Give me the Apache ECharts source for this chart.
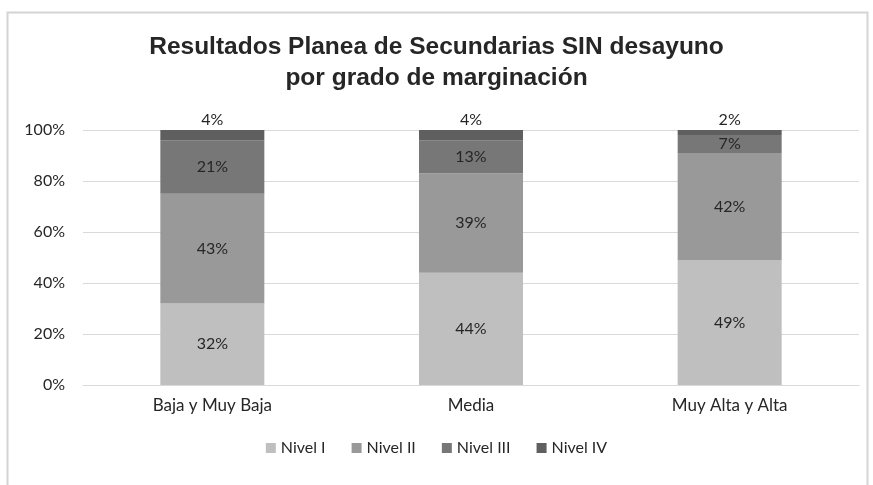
<!DOCTYPE html>
<html>
<head>
<meta charset="utf-8">
<script src="https://cdn.jsdelivr.net/npm/echarts@6/dist/echarts.min.js"></script>
<style>
  html, body { margin: 0; padding: 0; background: #fff; }
  #chart { width: 873px; height: 485px; }
</style>
</head>
<body>
<div id="chart"></div>
<script>
const categories = ['Baja y Muy Baja', 'Media', 'Muy Alta y Alta'];
const nivelI = [32, 44, 49];
const nivelII = [43, 39, 42];
const nivelIII = [21, 13, 7];
const nivelIV = [4, 4, 2];
const yTicks = [0, 20, 40, 60, 80, 100];

const textFont = 'Lato';

function seriesOf(name, data, color, pos) {
  return {
    name: name,
    type: 'bar',
    stack: 'total',
    data: data,
    barWidth: 104,
    itemStyle: { color: color },
    label: {
      show: true,
      position: pos,
      formatter: '{c}%',
      color: '#262626',
      fontFamily: textFont,
      fontSize: 16,
      distance: 2
    }
  };
}

const chart = echarts.init(document.getElementById('chart'));
chart.setOption({
  animation: false,
  title: {
    text: 'Resultados Planea de Secundarias SIN desayuno\npor grado de marginación',
    left: 'center',
    top: 27,
    textStyle: {
      fontFamily: 'Liberation Sans',
      fontWeight: 'bold',
      fontSize: 24.5,
      lineHeight: 31,
      color: '#262626'
    }
  },
  graphic: [{
    type: 'rect',
    shape: { x: 7.5, y: 12.5, width: 860, height: 500 },
    style: { fill: 'none', stroke: '#d4d4d4', lineWidth: 2 },
    silent: true
  }],
  legend: {
    bottom: 24,
    left: 'center',
    itemWidth: 10,
    itemHeight: 10,
    itemGap: 26,
    icon: 'rect',
    textStyle: { fontFamily: textFont, fontSize: 16, color: '#262626' },
    data: ['Nivel I', 'Nivel II', 'Nivel III', 'Nivel IV']
  },
  grid: { left: 83, right: 14, top: 130, bottom: 100 },
  xAxis: {
    type: 'category',
    data: categories,
    axisLine: { lineStyle: { color: '#d9d9d9', width: 1 } },
    axisTick: { show: false },
    axisLabel: { color: '#262626', fontFamily: textFont, fontSize: 17, margin: 12 }
  },
  yAxis: {
    type: 'value',
    min: yTicks[0],
    max: yTicks[yTicks.length - 1],
    interval: 20,
    axisLine: { show: false },
    axisTick: { show: false },
    splitLine: { lineStyle: { color: '#d9d9d9', width: 1 } },
    axisLabel: { color: '#262626', fontFamily: textFont, fontSize: 16, margin: 18, formatter: '{value}%' }
  },
  series: [
    seriesOf('Nivel I', nivelI, '#bfbfbf', 'inside'),
    seriesOf('Nivel II', nivelII, '#999999', 'inside'),
    seriesOf('Nivel III', nivelIII, '#777777', 'inside'),
    seriesOf('Nivel IV', nivelIV, '#5f5f5f', 'top')
  ]
});
</script>
</body>
</html>
